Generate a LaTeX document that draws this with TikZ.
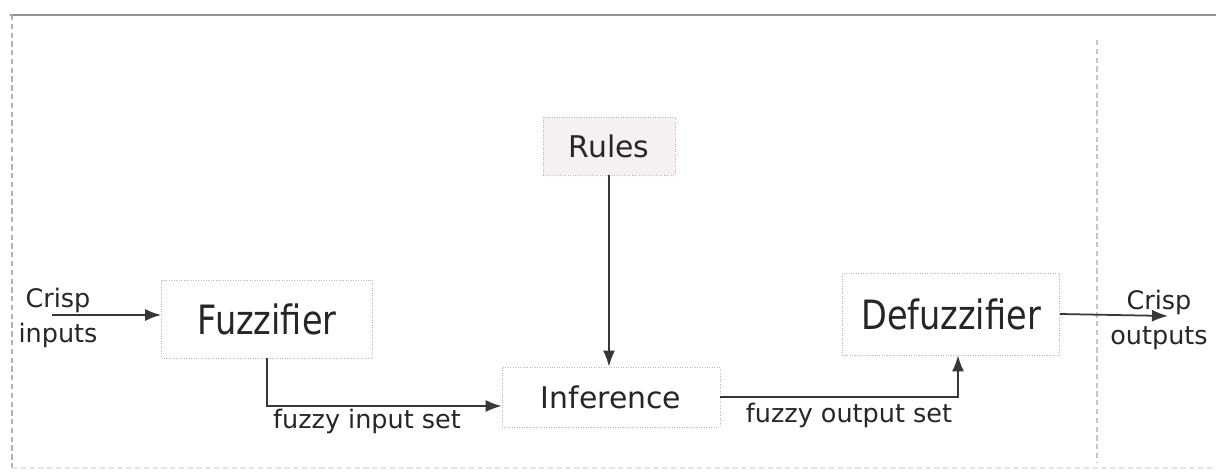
\documentclass[tikz,border=0pt]{standalone}
\usepackage{fontspec}
\setmainfont{DejaVu Sans}
\newfontfamily\condfont{DejaVu Sans}[FakeStretch=0.83]
\usetikzlibrary{arrows.meta}

\definecolor{textgray}{RGB}{38,38,38}
\definecolor{linegray}{RGB}{55,55,55}
\definecolor{rulesfill}{RGB}{246,240,245}

\begin{document}
\begin{tikzpicture}[x=0.02cm, y=-0.02cm,
    bloque/.style={draw=gray!55, densely dotted, fill=white, text=textgray, inner sep=0pt},
    bloquegrande/.style={bloque, font=\condfont\fontsize{23}{27}\selectfont},
    bloquemedio/.style={bloque, font=\fontsize{17}{20}\selectfont},
    etiqueta/.style={text=textgray, font=\fontsize{14.5}{19.5}\selectfont, align=center, inner sep=0pt},
    flecha/.style={draw=linegray, line width=1pt, -{Latex[length=0.32cm, width=0.24cm]}},
    marco/.style={draw=gray!60, densely dashed, line width=0.6pt}]
    \useasboundingbox (0,0) rectangle (1216,472);

    % Marco
    \draw[marco, draw=gray!85, solid, line width=0.9pt] (10,15) -- (1216,15);
    \draw[marco] (12,15) -- (12,472);
    \draw[marco, draw=gray!45] (1097,40) -- (1097,462);
    \draw[marco, draw=gray!20] (12,468) -- (1216,468);

    % Bloques
    \node[bloquemedio, fill=rulesfill, minimum width=2.64cm, minimum height=1.16cm] (rules) at (609,146) {Rules};
    \node[bloquegrande, minimum width=4.22cm, minimum height=1.56cm] (fuzz) at (267,319) {Fuzzifier};
    \node[bloquemedio, minimum width=4.36cm, minimum height=1.2cm] (inf) at (611,397) {Inference};
    \node[bloquegrande, minimum width=4.34cm, minimum height=1.64cm] (defuzz) at (951,314) {Defuzzifier};

    % Entradas y salidas
    \node[etiqueta] (crispin) at (58,318) {Crisp\\inputs};
    \node[etiqueta] (crispout) at (1159,320) {Crisp\\outputs};
    \coordinate (cin) at (52,315);
    \coordinate (cout) at (1168,316);

    % Conexiones
    \draw[flecha] (cin) -- (cin -| fuzz.west);
    \draw[flecha] (rules.south) -- (rules.south |- inf.north);
    \draw[flecha] (fuzz.south) |- ([yshift=-0.18cm]inf.west);
    \draw[flecha] (inf.east) -| ([xshift=0.14cm]defuzz.south);
    \draw[flecha] (defuzz.east) -- (cout);

    % Etiquetas
    \node[etiqueta] (lblin) at (367,421) {fuzzy input set};
    \node[etiqueta] (lblout) at (849,415) {fuzzy output set};
\end{tikzpicture}
\end{document}
